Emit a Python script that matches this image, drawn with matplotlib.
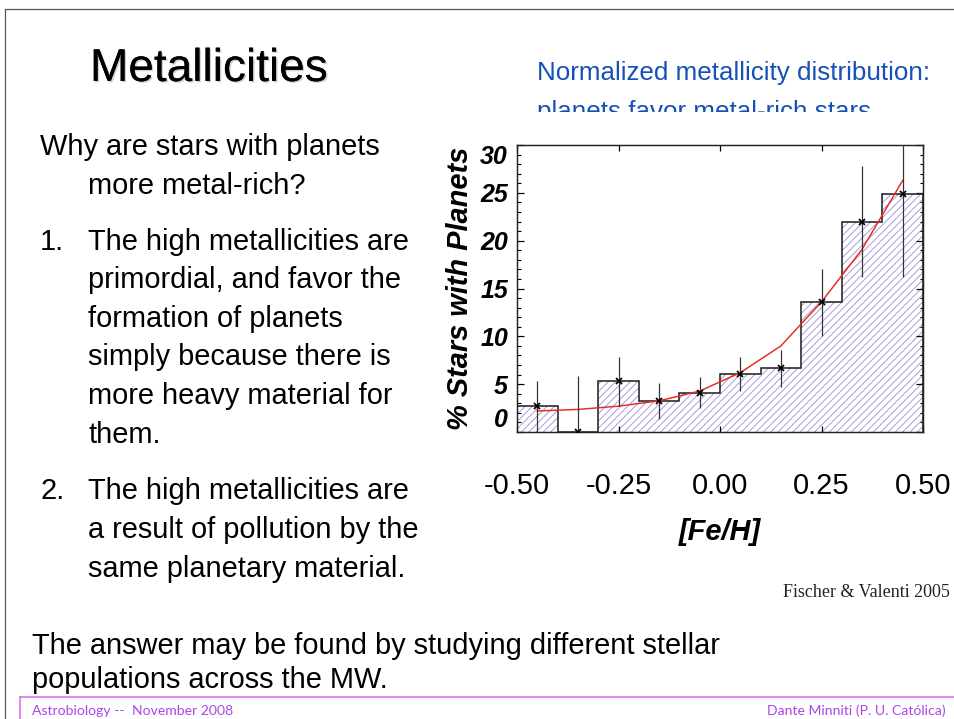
import matplotlib
matplotlib.use("Agg")
import matplotlib.pyplot as plt
import matplotlib.patheffects as pe
from matplotlib.patches import Rectangle
from matplotlib.lines import Line2D
from matplotlib.ticker import MultipleLocator

# ---------------- data ----------------
bin_edges = [-0.5, -0.4, -0.3, -0.2, -0.1, 0.0, 0.1, 0.2, 0.3, 0.4, 0.5]
bin_centers = [-0.45, -0.35, -0.25, -0.15, -0.05, 0.05, 0.15, 0.25, 0.35, 0.45]
pct_planets = [2.7, 0.0, 5.28, 3.26, 4.1, 6.08, 6.67, 13.54, 22.0, 24.93]
pct_err = [2.65, 5.9, 2.57, 1.9, 1.6, 1.8, 1.95, 3.5, 5.8, 8.7]
fit_pct = [2.2, 2.36, 2.7, 3.26, 4.28, 6.2, 9.0, 13.6, 19.1, 26.3]
xticks = [-0.5, -0.25, 0.0, 0.25, 0.5]
xtick_labels = ["-0.50", "-0.25", "0.00", "0.25", "0.50"]
yticks = [0, 5, 10, 15, 20, 25, 30]
ytick_labels = ["0", "5", "10", "15", "20", "25", "30"]

title = "Metallicities"
subtitle_lines = ["Normalized metallicity distribution:", "planets favor metal-rich stars"]
body_lines = [
    ("", "Why are stars with planets", 155, 40),
    ("", "more metal-rich?", 194, 88),
    ("1.", "The high metallicities are", 250, 88),
    ("", "primordial, and favor the", 288, 88),
    ("", "formation of planets", 327, 88),
    ("", "simply because there is", 365, 88),
    ("", "more heavy material for", 404, 88),
    ("", "them.", 443, 88),
    ("2.", "The high metallicities are", 499, 88),
    ("", "a result of pollution by the", 538, 88),
    ("", "same planetary material.", 577, 88),
]
bottom_lines = ["The answer may be found by studying different stellar",
                "populations across the MW."]
footer_left = "Astrobiology --  November 2008"
footer_right = "Dante Minniti (P. U. Católica)"
credit = "Fischer & Valenti 2005"

# ---------------- layout helpers ----------------
W, H, DPI = 954, 719, 88


def P(px):
    return px * 72.0 / DPI


def fx(px):
    return px / W


def fy(py):
    return 1 - py / H


SANS = ["Liberation Sans", "DejaVu Sans"]

plt.rcParams["hatch.linewidth"] = 0.75

fig = plt.figure(figsize=(W / DPI, H / DPI), dpi=DPI)
fig.patch.set_facecolor("white")

# slide frame lines
fig.add_artist(Line2D([fx(5), fx(954)], [fy(9), fy(9)], color="#555555", lw=1.0))
fig.add_artist(Line2D([fx(5), fx(5)], [fy(9), fy(719)], color="#555555", lw=1.0))
fig.add_artist(Line2D([fx(20), fx(954)], [fy(697), fy(697)], color="#d86cf4", lw=1.3))
fig.add_artist(Line2D([fx(20), fx(20)], [fy(697), fy(719)], color="#d86cf4", lw=1.3))

# title
fig.text(fx(90), fy(81), title, family=SANS, fontsize=P(46), color="black",
         va="baseline", ha="left",
         path_effects=[pe.withSimplePatchShadow(offset=(1.2, -1.2), shadow_rgbFace="#b0b0b0", alpha=0.6),
                       pe.Normal()])

# blue subtitle (second line partly hidden)
fig.text(fx(537), fy(80), subtitle_lines[0], family=SANS, fontsize=P(26), color="#1450b8",
         va="baseline", ha="left")
fig.text(fx(537), fy(119), subtitle_lines[1], family=SANS, fontsize=P(26), color="#1450b8",
         va="baseline", ha="left", zorder=3)
fig.add_artist(Rectangle((fx(525), fy(140)), fx(954) - fx(525), fy(112) - fy(140),
                         transform=fig.transFigure, facecolor="white", edgecolor="none", zorder=4))

# body text
for num, line, base, x0 in body_lines:
    if num:
        fig.text(fx(40), fy(base), num, family=SANS, fontsize=P(29), va="baseline", ha="left")
    fig.text(fx(x0), fy(base), line, family=SANS, fontsize=P(29), va="baseline", ha="left")

fig.text(fx(32), fy(654), bottom_lines[0], family=SANS, fontsize=P(29), va="baseline", ha="left")
fig.text(fx(32), fy(688), bottom_lines[1], family=SANS, fontsize=P(29), va="baseline", ha="left")

# footer
fig.text(fx(32), fy(715), footer_left, family=["Lato", "DejaVu Sans"], fontsize=P(14),
         color="#a947e6", va="baseline", ha="left")
fig.text(fx(946), fy(715), footer_right, family=["Lato", "DejaVu Sans"], fontsize=P(14),
         color="#a947e6", va="baseline", ha="right")

# credit
fig.text(fx(950), fy(597), credit, family=["Liberation Serif", "DejaVu Serif"], fontsize=P(18),
         color="#222222", va="baseline", ha="right")

# ---------------- chart ----------------
ax = fig.add_axes([fx(517), fy(432), (923 - 517) / W, (432 - 145) / H])
ax.bar(bin_centers, pct_planets, width=0.1, fill=False, hatch="////",
       edgecolor="#a697d9", linewidth=0, zorder=1)
ax.stairs(pct_planets, bin_edges, color="#222222", lw=1.3, zorder=2)
ax.plot(bin_centers, fit_pct, color="#e82a1e", lw=1.2, zorder=3)
ax.errorbar(bin_centers, pct_planets, yerr=pct_err, fmt="x", color="black",
            ecolor="#333333", elinewidth=1.0, capsize=0, ms=5.5, mew=1.4, zorder=4)

ax.set_xlim(-0.5, 0.5)
ax.set_ylim(0, 30)
for s in ax.spines.values():
    s.set_linewidth(1.2)
    s.set_color("#222222")

ax.set_xticks(xticks)
ax.set_xticklabels(xtick_labels, family=SANS, fontsize=P(29))
ax.set_yticks(yticks)
ax.set_yticklabels(ytick_labels, family=SANS, fontsize=P(25), fontweight="bold", fontstyle="italic")
ax.yaxis.set_minor_locator(MultipleLocator(1))
ax.tick_params(axis="x", which="major", direction="in", length=P(6), width=1.0,
               top=True, bottom=True, pad=P(40))
ax.tick_params(axis="y", which="major", direction="in", length=P(7), width=1.0,
               left=True, right=True, pad=P(9))
ax.tick_params(axis="y", which="minor", direction="in", length=P(3.5), width=0.9,
               left=True, right=True)
labs = ax.get_yticklabels()
labs[0].set_va("bottom")
labs[-1].set_va("top")

ax.set_xlabel("[Fe/H]", family=SANS, fontsize=P(29), fontweight="bold", fontstyle="italic",
              labelpad=P(18))
ax.set_ylabel("% Stars with Planets", family=SANS, fontsize=P(29), fontweight="bold",
              fontstyle="italic", labelpad=P(6))

fig.savefig("out.png", dpi=DPI, facecolor="white")
